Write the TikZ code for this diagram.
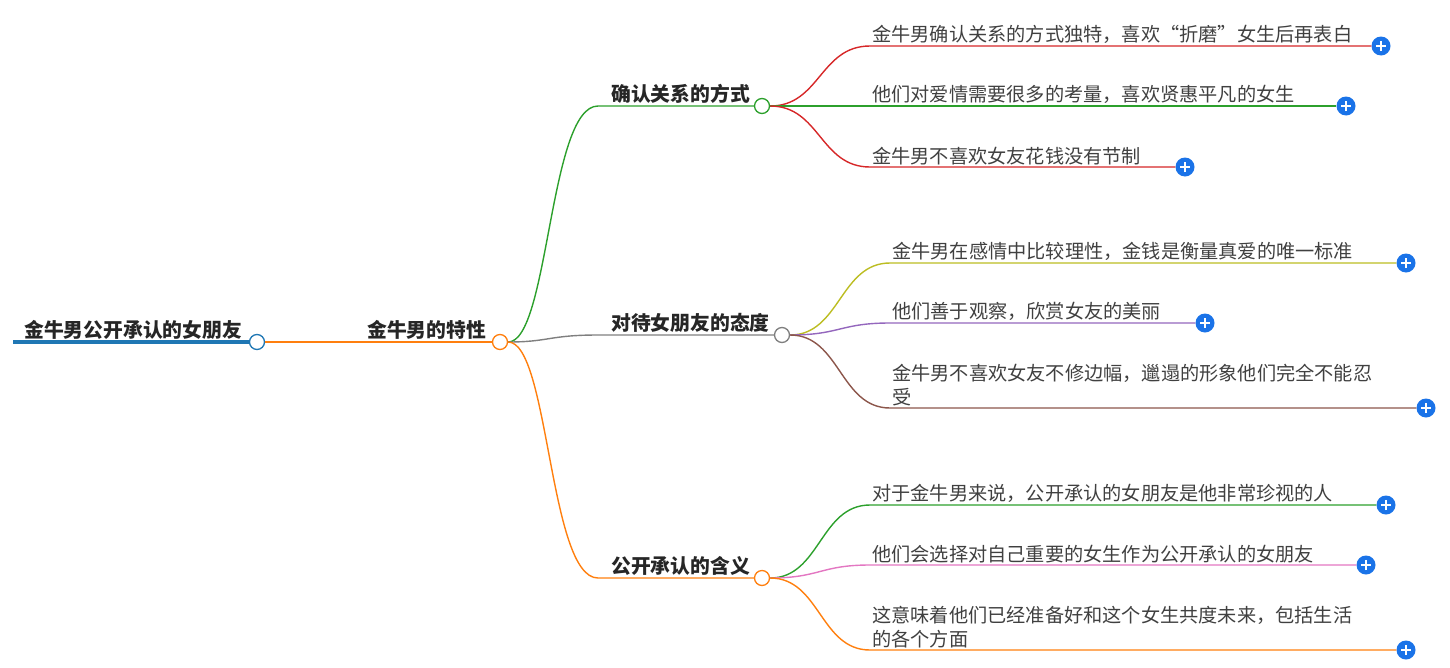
\documentclass[tikz,border=0pt]{standalone}
\usepackage{fontspec}
\setmainfont{Noto Sans CJK SC}
\definecolor{cblue}{HTML}{1F77B4}
\definecolor{corange}{HTML}{FF7F0E}
\definecolor{cgreen}{HTML}{2CA02C}
\definecolor{cred}{HTML}{D62728}
\definecolor{cgray}{HTML}{7F7F7F}
\definecolor{colive}{HTML}{BCBD22}
\definecolor{cpurple}{HTML}{9467BD}
\definecolor{cbrown}{HTML}{8C564B}
\definecolor{cpink}{HTML}{E377C2}
\definecolor{plusblue}{HTML}{1A73E8}
\begin{document}
\begin{tikzpicture}[x=1pt,y=-1pt,
  hub/.style={circle,draw=#1,fill=white,line width=1.3pt,minimum size=15pt,inner sep=0pt},
  plus/.style={circle,fill=plusblue,minimum size=19pt,inner sep=0pt,
    path picture={\draw[white,line width=1.8pt] ([xshift=-5pt]path picture bounding box.center) -- ([xshift=5pt]path picture bounding box.center) ([yshift=-5pt]path picture bounding box.center) -- ([yshift=5pt]path picture bounding box.center);}},
  title/.style={anchor=south west,inner sep=1pt,font=\bfseries\fontsize{19.8}{22}\selectfont,text=black!85},
  leaf/.style={anchor=south west,inner sep=1pt,font=\fontsize{19.2}{24}\selectfont,text=black!75,align=left},
  link/.style={line width=1.4pt}]
\useasboundingbox (0,0) rectangle (1450,667);
% root
\draw[cblue,line width=3.5pt] (13,342) -- (250,342);
\node[title] (rt) at (23,341) {金牛男公开承认的女朋友};
\node[hub=cblue] (r) at (257,342) {};
\node[hub=corange] (m) at (500,342) {};
\draw[corange,link] (r) -- (m);
\node[title] (mt) at (366,341) {金牛男的特性};
% level 1
\node[hub=cgreen] (a) at (762,106) {};
\node[hub=cgray] (b) at (782,335) {};
\node[hub=corange] (c) at (762,578) {};
\coordinate (a0) at (598,106);\coordinate (b0) at (598,335);\coordinate (c0) at (598,578);
\draw[cgreen,link] (m.east) .. controls (549,342) and (549,106) .. (a0) -- (a);
\draw[cgray,link] (m.east) .. controls (549,342) and (549,335) .. (b0) -- (b);
\draw[corange,link] (m.east) .. controls (549,342) and (549,578) .. (c0) -- (c);
\node[title] at (610,105) {确认关系的方式};
\node[title] at (610,334) {对待女朋友的态度};
\node[title] at (610,577) {公开承认的含义};
% group a
\node[plus] (p1) at (1381,46) {};
\node[plus] (p2) at (1346,106) {};
\node[plus] (p3) at (1185,167) {};
\draw[cred,link] (a.east) .. controls (820,106) and (820,46) .. (870,46) -- (p1.west);
\draw[cgreen,link] (a.east) -- (p2.west);
\draw[cred,link] (a.east) .. controls (820,106) and (820,167) .. (870,167) -- (p3.west);
\node[leaf] at (871,45) {金牛男确认关系的方式独特，喜欢“折磨”女生后再表白};
\node[leaf] at (871,105) {他们对爱情需要很多的考量，喜欢贤惠平凡的女生};
\node[leaf] at (871,166) {金牛男不喜欢女友花钱没有节制};
% group b
\node[plus] (p4) at (1406,263) {};
\node[plus] (p5) at (1205,323) {};
\node[plus] (p6) at (1426,408) {};
\draw[colive,link] (b.east) .. controls (840,335) and (840,263) .. (890,263) -- (p4.west);
\draw[cpurple,link] (b.east) .. controls (840,335) and (840,323) .. (890,323) -- (p5.west);
\draw[cbrown,link] (b.east) .. controls (840,335) and (840,408) .. (890,408) -- (p6.west);
\node[leaf] at (891,262) {金牛男在感情中比较理性，金钱是衡量真爱的唯一标准};
\node[leaf] at (891,322) {他们善于观察，欣赏女友的美丽};
\node[leaf] at (891,407) {金牛男不喜欢女友不修边幅，邋遢的形象他们完全不能忍\\受};
% group c
\node[plus] (p7) at (1386,505) {};
\node[plus] (p8) at (1366,565) {};
\node[plus] (p9) at (1406,650) {};
\draw[cgreen,link] (c.east) .. controls (820,578) and (820,505) .. (870,505) -- (p7.west);
\draw[cpink,link] (c.east) .. controls (820,578) and (820,565) .. (870,565) -- (p8.west);
\draw[corange,link] (c.east) .. controls (820,578) and (820,650) .. (870,650) -- (p9.west);
\node[leaf] at (871,504) {对于金牛男来说，公开承认的女朋友是他非常珍视的人};
\node[leaf] at (871,564) {他们会选择对自己重要的女生作为公开承认的女朋友};
\node[leaf] at (871,649) {这意味着他们已经准备好和这个女生共度未来，包括生活\\的各个方面};
\end{tikzpicture}
\end{document}
